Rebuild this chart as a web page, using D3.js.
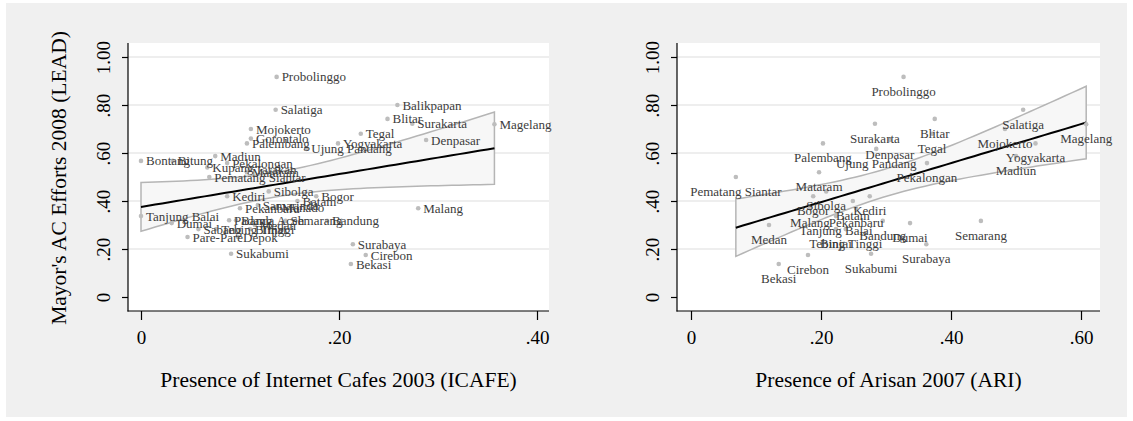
<!DOCTYPE html>
<html>
<head>
<meta charset="utf-8">
<script src="https://cdn.jsdelivr.net/npm/d3@7"></script>
<style>
  body { margin: 0; background: #fff; }
  text { font-family: "Liberation Serif", "Times New Roman", serif; }
</style>
</head>
<body>
<div id="chart"></div>
<script>
var width = 1133,
    height = 421;

// city data (ICAFE 2003, LEAD 2008, ARI 2007; null = not available)
var cities = ["Probolinggo", "Salatiga", "Balikpapan", "Blitar", "Surakarta", "Magelang",
    "Mojokerto", "Gorontalo", "Palembang", "Tegal", "Yogyakarta", "Ujung Pandang",
    "Denpasar", "Bontang", "Bitung", "Madiun", "Kupang", "Pekalongan",
    "Pematang Siantar", "Mataram", "Tarakan", "Kediri", "Sibolga", "Samarinda",
    "Batam", "Bogor", "Manado", "Pekanbaru", "Malang", "Tanjung Balai", "Dumai",
    "Pare-Pare", "Depok", "Sukabumi", "Semarang", "Bandung", "Surabaya", "Cirebon",
    "Bekasi", "Padang", "Banda Aceh", "Sabang", "Tebing Tinggi", "Binjai", "Medan"];
var lead = [0.917, 0.78, 0.80, 0.742, 0.722, 0.72,
    0.70, 0.66, 0.64, 0.68, 0.64, 0.617,
    0.654, 0.567, 0.567, 0.587, 0.54, 0.558,
    0.50, 0.52, 0.53, 0.42, 0.44, 0.383,
    0.40, 0.42, 0.375, 0.37, 0.37, 0.337, 0.308,
    0.25, 0.25, 0.18, 0.317, 0.317, 0.22, 0.175,
    0.1375, 0.32, 0.32, 0.283, 0.283, 0.283, 0.30];
var icafe = [0.137, 0.136, 0.259, 0.249, 0.274, 0.357,
    0.111, 0.111, 0.107, 0.222, 0.199, 0.167,
    0.288, 0.0, 0.032, 0.075, 0.067, 0.087,
    0.069, 0.107, 0.110, 0.087, 0.129, 0.118,
    0.158, 0.177, 0.137, 0.10, 0.28, 0.0, 0.031,
    0.047, 0.098, 0.091, 0.146, 0.188, 0.214, 0.227,
    0.212, 0.089, 0.096, 0.058, 0.076, 0.110, 0.115];
var ari = [0.327, 0.511, null, 0.375, 0.283, 0.608,
    0.483, null, 0.203, 0.371, 0.53, 0.285,
    0.306, null, null, 0.50, null, 0.363,
    0.069, 0.197, null, 0.275, 0.208, null,
    0.249, 0.188, null, 0.254, 0.183, 0.223, 0.337,
    null, null, 0.277, 0.446, 0.295, 0.362, 0.18,
    0.135, null, null, null, 0.238, 0.223, 0.12];

var yTicks = [0, 0.2, 0.4, 0.6, 0.8, 1.0];
var xTicksLeft = [0, 0.2, 0.4];
var xTicksRight = [0, 0.2, 0.4, 0.6];

var yTitle = "Mayor's AC Efforts 2008 (LEAD)";
var xTitleLeft = "Presence of Internet Cafes 2003 (ICAFE)";
var xTitleRight = "Presence of Arisan 2007 (ARI)";

var svg = d3.select("#chart").append("svg")
    .attr("width", width)
    .attr("height", height);

svg.append("rect")
    .attr("x", 6).attr("y", 3)
    .attr("width", 1121).attr("height", 414)
    .attr("fill", "#f0f0f0");

var fmt = function(v) {
    if (v === 0) return "0";
    return d3.format(".2f")(v).replace(/^0/, "");
};

var y = d3.scaleLinear().domain([0, 1]).range([297, 57]);

/** one scatter panel with linear fit and 95% CI */
function panel(opt) {
    var g = svg.append("g");
    var x = d3.scaleLinear().domain(opt.xdom).range(opt.xrange);

    var pts = [];
    cities.forEach(function(c, i) {
        if (opt.xs[i] !== null) pts.push({city: c, x: opt.xs[i], y: lead[i]});
    });

    // plot region
    g.append("rect")
        .attr("x", opt.left).attr("y", 43)
        .attr("width", opt.right - opt.left).attr("height", 311 - 43)
        .attr("fill", "#fff");

    g.selectAll(".grid")
        .data(yTicks.filter(function(d) { return d > 0; }))
        .enter().append("line")
        .attr("x1", opt.left).attr("x2", opt.right)
        .attr("y1", function(d) { return y(d); })
        .attr("y2", function(d) { return y(d); })
        .attr("stroke", "#e8e8e8")
        .attr("stroke-width", 1.5);

    // regression
    var n = pts.length;
    var mx = d3.mean(pts, function(d) { return d.x; });
    var my = d3.mean(pts, function(d) { return d.y; });
    var sxx = d3.sum(pts, function(d) { return (d.x - mx) * (d.x - mx); });
    var sxy = d3.sum(pts, function(d) { return (d.x - mx) * (d.y - my); });
    var b = sxy / sxx, a = my - b * mx;
    var sse = d3.sum(pts, function(d) { var r = d.y - a - b * d.x; return r * r; });
    var s = Math.sqrt(sse / (n - 2));
    var t = 1.82;
    var ext = d3.extent(pts, function(d) { return d.x; });
    var grid = d3.range(0, 51).map(function(k) {
        var xv = ext[0] + (ext[1] - ext[0]) * k / 50;
        var se = s * Math.sqrt(1 / n + (xv - mx) * (xv - mx) / sxx);
        var fit = a + b * xv;
        return {x: xv, fit: fit, lo: fit - t * se, hi: fit + t * se};
    });

    var band = d3.area()
        .x(function(d) { return x(d.x); })
        .y0(function(d) { return y(d.lo); })
        .y1(function(d) { return y(d.hi); });
    g.append("path")
        .datum(grid)
        .attr("d", function(d) { return band(d) + "Z"; })
        .attr("fill", "#f7f7f7")
        .attr("stroke", "#b5b5b5")
        .attr("stroke-width", 1.5);

    g.append("path")
        .datum(grid)
        .attr("d", d3.line().x(function(d) { return x(d.x); }).y(function(d) { return y(d.fit); }))
        .attr("fill", "none")
        .attr("stroke", "#000")
        .attr("stroke-width", 2);

    // markers and labels
    g.selectAll(".dot")
        .data(pts)
        .enter().append("circle")
        .attr("cx", function(d) { return x(d.x); })
        .attr("cy", function(d) { return y(d.y); })
        .attr("r", 2.3)
        .attr("fill", "#bdbdbd");

    g.selectAll(".lab")
        .data(pts)
        .enter().append("text")
        .attr("x", function(d) { return x(d.x) + opt.labdx; })
        .attr("y", function(d) { return y(d.y) + opt.labdy; })
        .style("text-anchor", opt.labanchor)
        .style("font-size", "13px")
        .attr("fill", "#3c3c3c")
        .text(function(d) { return d.city; });

    // axes
    var ya = g.append("g")
        .attr("transform", "translate(" + opt.left + ",0)")
        .call(d3.axisLeft(y).tickValues(yTicks).tickSize(6).tickFormat(fmt));
    ya.select(".domain").remove();
    ya.selectAll("line").attr("stroke-width", 1.2);
    ya.selectAll("text")
        .attr("x", 0).attr("dy", 0)
        .attr("transform", "translate(-18,0) rotate(-90)")
        .style("text-anchor", "middle")
        .style("font-size", "19px")
        .attr("fill", "#000");

    var xa = g.append("g")
        .attr("transform", "translate(0,311)")
        .call(d3.axisBottom(x).tickValues(opt.xticks).tickSize(9).tickFormat(fmt));
    xa.select(".domain").remove();
    xa.selectAll("line").attr("stroke-width", 1.2);
    xa.selectAll("text")
        .attr("y", 33).attr("dy", 0)
        .style("font-size", "19px")
        .attr("fill", "#000");

    g.append("line")
        .attr("x1", opt.left).attr("x2", opt.left)
        .attr("y1", 43).attr("y2", 311.5)
        .attr("stroke", "#000").attr("stroke-width", 1.2);
    g.append("line")
        .attr("x1", opt.left - 0.5).attr("x2", opt.right)
        .attr("y1", 311).attr("y2", 311)
        .attr("stroke", "#000").attr("stroke-width", 1.2);

    g.append("text")
        .attr("x", (opt.left + opt.right) / 2)
        .attr("y", 387)
        .style("text-anchor", "middle")
        .style("font-size", "21.5px")
        .text(opt.xtitle);
}

panel({xs: icafe, xdom: [0, 0.4], xrange: [141, 537], left: 128, right: 549,
    xticks: xTicksLeft, xtitle: xTitleLeft, labdx: 5, labdy: 4.5, labanchor: "start"});
panel({xs: ari, xdom: [0, 0.6], xrange: [691, 1081], left: 677, right: 1100,
    xticks: xTicksRight, xtitle: xTitleRight, labdx: 0, labdy: 19, labanchor: "middle"});

svg.append("text")
    .attr("transform", "translate(66,178) rotate(-90)")
    .style("text-anchor", "middle")
    .style("font-size", "21.5px")
    .text(yTitle);
</script>
</body>
</html>
